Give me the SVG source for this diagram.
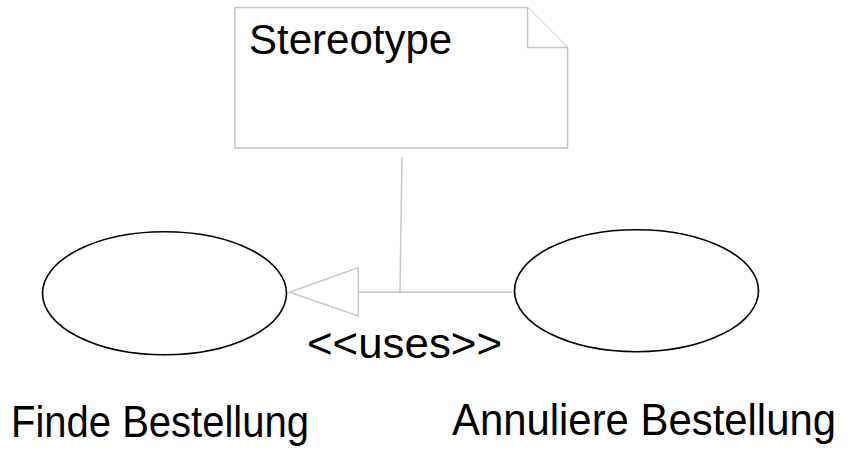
<svg xmlns="http://www.w3.org/2000/svg" width="856" height="452" viewBox="0 0 856 452">
  <style>
    .lbl { font-family: "Liberation Sans", Arial, sans-serif; fill: #000; }
    .note { fill: #fff; stroke: #c4c4c4; stroke-width: 1.5; }
    .usecase { fill: #fff; stroke: #000; stroke-width: 1.6; }
    .conn { fill: none; stroke: #c8c8c8; stroke-width: 1.5; }
    .head { fill: #fff; stroke: #c8c8c8; stroke-width: 1.5; }
  </style>
  <rect width="856" height="452" fill="#fff"/>

  <!-- Note with folded corner -->
  <g id="note-stereotype">
    <path class="note" d="M235,7.5 H527.5 L567.5,47.5 V148 H235 Z"/>
    <path class="note" d="M527.5,7.5 V47.5 H567.5" fill="none"/>
    <text class="lbl" x="249" y="54" font-size="42">Stereotype</text>
  </g>

  <!-- Use cases -->
  <g id="uc-finde">
    <ellipse class="usecase" cx="164.5" cy="293.3" rx="122" ry="61.5"/>
    <text class="lbl" x="11" y="437" font-size="44" textLength="298" lengthAdjust="spacingAndGlyphs">Finde Bestellung</text>
  </g>
  <g id="uc-annuliere">
    <ellipse class="usecase" cx="636.5" cy="290.7" rx="122" ry="61"/>
    <text class="lbl" x="452" y="435" font-size="44" textLength="384" lengthAdjust="spacingAndGlyphs">Annuliere Bestellung</text>
  </g>

  <!-- Connectors -->
  <g id="connectors">
    <line class="conn" x1="402" y1="157" x2="400" y2="292.3"/>
    <line class="conn" x1="358.3" y1="292.3" x2="512" y2="292.3"/>
    <polygon class="head" points="289.5,292.3 358.3,267.5 358.3,316"/>
    <text class="lbl" x="307" y="358" font-size="42" textLength="195" lengthAdjust="spacingAndGlyphs">&lt;&lt;uses&gt;&gt;</text>
  </g>
</svg>
